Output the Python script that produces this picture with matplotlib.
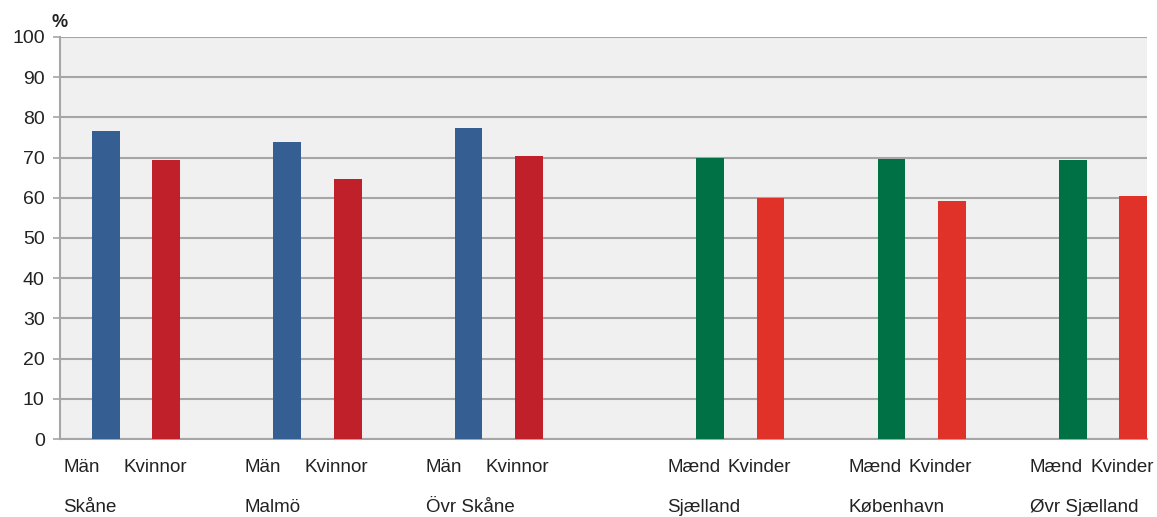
import matplotlib
matplotlib.use('Agg')
import matplotlib.pyplot as plt

# sex labels, region labels and values (%)
sex_labels = ['Män', 'Kvinnor', 'Män', 'Kvinnor', 'Män', 'Kvinnor',
              'Mænd', 'Kvinder', 'Mænd', 'Kvinder', 'Mænd', 'Kvinder']
regions = ['Skåne', 'Malmö', 'Övr Skåne', 'Sjælland', 'København', 'Øvr Sjælland']
values = [76.7, 69.5, 73.9, 64.8, 77.4, 70.5,
          70.0, 60.0, 69.7, 59.3, 69.5, 60.5]
colors = ['#355e93', '#c0202a'] * 3 + ['#007144', '#e03228'] * 3

# slot positions: pairs with a blank slot between, extra blank between countries
positions = [0, 1, 3, 4, 6, 7, 10, 11, 13, 14, 16, 17]

plt.rcParams['font.family'] = ['Liberation Sans', 'DejaVu Sans']

fig = plt.figure(figsize=(11.57, 5.17), dpi=100)
ax = fig.add_axes([60 / 1157, 78 / 517, 1087 / 1157, 402 / 517])
ax.set_facecolor('#f0f0f0')

ax.bar(positions, values, width=0.46, color=colors, zorder=3)

ax.set_ylim(0, 100)
ax.set_xlim(-0.76, 17.23)
ax.set_yticks(range(0, 101, 10))
ax.yaxis.grid(True, color='#a6a6a6', linewidth=1.5, zorder=1)
ax.set_axisbelow(True)
ax.tick_params(axis='y', length=5, width=1.2, color='#a6a6a6', labelsize=14,
               labelcolor='#222222', pad=6)
ax.set_xticks([])
for s in ['top', 'right']:
    ax.spines[s].set_visible(False)
for s in ['left', 'bottom']:
    ax.spines[s].set_color('#a6a6a6')
    ax.spines[s].set_linewidth(1.5)

for p, lab in zip(positions, sex_labels):
    ax.text(p - 0.71, -7, lab, ha='left', va='center', fontsize=13.5, color='#222222')
for i, r in enumerate(regions):
    ax.text(positions[2 * i] - 0.71, -17, r, ha='left', va='center', fontsize=13.5,
            color='#222222')

ax.text(-0.9, 103.5, '%', ha='left', va='center', fontsize=13, fontweight='bold',
        color='#222222')

fig.savefig('out.png', dpi=100)
